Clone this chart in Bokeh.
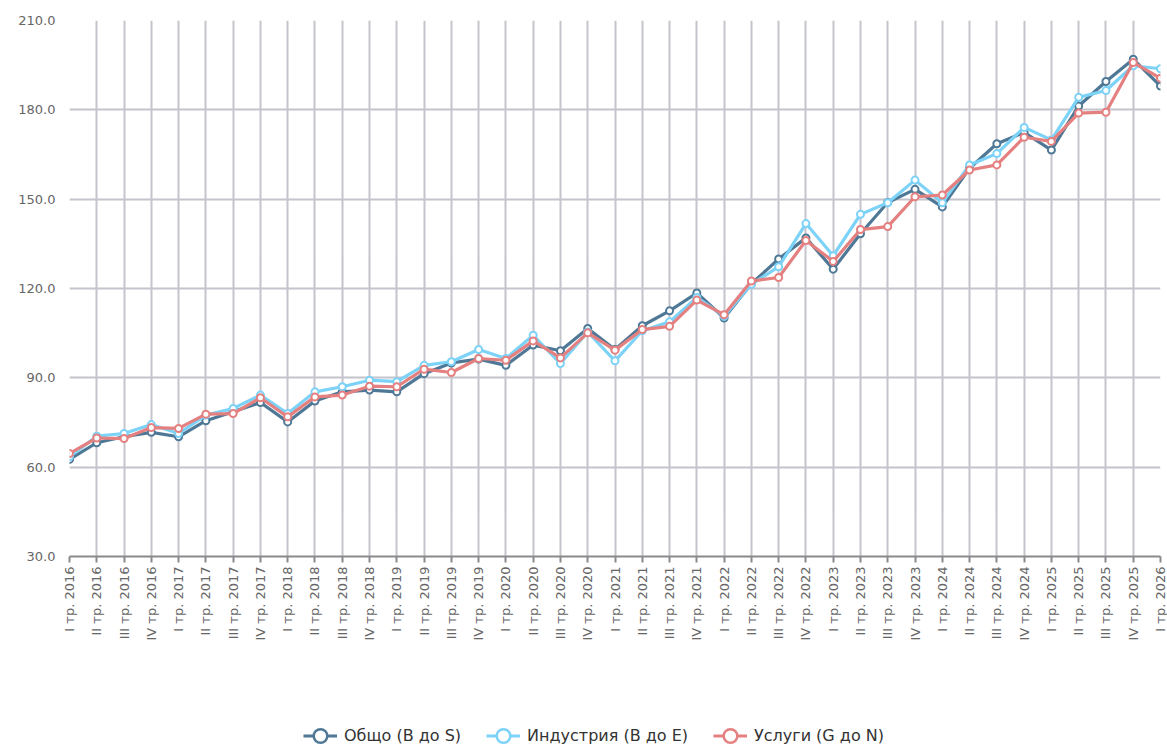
import numpy as np
from bokeh.plotting import figure
from bokeh.layouts import column
from bokeh.models import (Range1d, FixedTicker, PrintfTickFormatter, Legend, LegendItem)
from bokeh.embed import file_html
from bokeh.resources import INLINE

romans = ["I", "II", "III", "IV"]
quarters = [f"{romans[i % 4]} тр. {2016 + i // 4}" for i in range(41)]

obshto = [62.6, 68.2, 70.2, 71.7, 70.2, 75.6, 78.6, 81.7, 75.2, 82.2,
          85.3, 85.9, 85.3, 91.4, 95.0, 96.3, 94.2, 101.0, 99.1, 106.6,
          99.5, 107.5, 112.5, 118.5, 110.1, 121.6, 129.9, 137.0, 126.5, 138.4,
          148.9, 153.3, 147.4, 160.4, 168.6, 172.4, 166.5, 181.3, 189.5, 197.0,
          188.0]
industria = [63.5, 70.4, 71.3, 74.3, 71.3, 77.5, 79.7, 84.2, 78.0, 85.3,
             87.0, 89.2, 88.7, 94.2, 95.4, 99.5, 96.5, 104.3, 94.8, 105.4,
             95.7, 105.8, 108.8, 117.0, 110.7, 121.4, 127.3, 141.8, 131.0, 144.9,
             148.8, 156.4, 148.8, 161.5, 165.3, 174.1, 169.9, 184.2, 186.5, 194.8,
             193.8]
uslugi = [64.6, 69.8, 69.6, 73.3, 73.0, 77.8, 78.0, 83.3, 76.9, 83.6,
          84.2, 87.2, 87.0, 92.9, 91.8, 96.5, 95.9, 102.4, 96.7, 105.1,
          99.3, 106.2, 107.3, 116.1, 111.2, 122.5, 123.7, 136.1, 129.1, 139.8,
          140.8, 150.8, 151.4, 159.8, 161.5, 170.8, 169.4, 178.9, 179.2, 195.9,
          190.6]

series_names = ["Общо (B до S)", "Индустрия (B до E)", "Услуги (G до N)"]
series_vals = [obshto, industria, uslugi]
colors = ["#4e7896", "#7dd2f8", "#e58081"]
y_ticks = [30, 60, 90, 120, 150, 180, 210]

FONT = "DejaVu Sans"
x = list(range(len(quarters)))

p = figure(width=1167, height=720, output_backend="svg", toolbar_location=None,
           x_range=Range1d(0, len(quarters) - 1), y_range=Range1d(30, 210),
           min_border_left=69, min_border_right=7, min_border_top=20,
           min_border_bottom=164)
p.outline_line_color = None
p.background_fill_color = "white"
p.border_fill_color = "white"

p.xaxis.ticker = FixedTicker(ticks=x)
p.xaxis.major_label_overrides = {i: q for i, q in enumerate(quarters)}
p.xaxis.major_label_orientation = np.pi / 2
p.xaxis.major_label_text_font = FONT
p.xaxis.major_label_text_font_size = "13px"
p.xaxis.major_label_text_color = "#666666"
p.xaxis.axis_line_color = "#8a8a8a"
p.xaxis.axis_line_width = 2
p.xaxis.major_tick_line_color = "#8a8a8a"
p.xaxis.major_tick_line_width = 2
p.xaxis.major_tick_out = 6
p.xaxis.major_tick_in = 0
p.xaxis.minor_tick_line_color = None
p.xaxis.major_label_standoff = 4

p.yaxis.ticker = FixedTicker(ticks=y_ticks)
p.yaxis.formatter = PrintfTickFormatter(format="%.1f")
p.yaxis.major_label_text_font = FONT
p.yaxis.major_label_text_font_size = "13px"
p.yaxis.major_label_text_color = "#666666"
p.yaxis.axis_line_color = None
p.yaxis.major_tick_line_color = None
p.yaxis.minor_tick_line_color = None
p.yaxis.major_label_standoff = 8

p.xgrid.ticker = FixedTicker(ticks=x)
p.xgrid.grid_line_color = "#c4c4cc"
p.xgrid.grid_line_width = 2
p.ygrid.ticker = FixedTicker(ticks=y_ticks)
p.ygrid.grid_line_color = "#c4c4cc"
p.ygrid.grid_line_width = 2

for name, vals, col in zip(series_names, series_vals, colors):
    p.line(x, vals, line_color=col, line_width=3.2)
    p.scatter(x, vals, marker="circle", size=7, fill_color="white",
              line_color=col, line_width=2)

# legend strip (same series, drawn out of view so only the legend shows)
lg = figure(width=1167, height=25, output_backend="svg", toolbar_location=None,
            x_range=Range1d(0, 1), y_range=Range1d(1000, 1001),
            x_axis_location=None, y_axis_location=None,
            min_border_left=0, min_border_right=0, min_border_top=0,
            min_border_bottom=0)
lg.outline_line_color = None
lg.xgrid.visible = False
lg.ygrid.visible = False
items = []
for name, vals, col in zip(series_names, series_vals, colors):
    l = lg.line(x, vals, line_color=col, line_width=3)
    s = lg.scatter(x, vals, marker="circle", size=7, fill_color="white",
                   line_color=col, line_width=2.5)
    items.append(LegendItem(label=name, renderers=[l, s]))

legend = Legend(items=items, orientation="horizontal", location=(234, -8),
                glyph_width=34, glyph_height=35, label_standoff=7, spacing=25,
                padding=0, margin=0, border_line_alpha=0, background_fill_alpha=0,
                label_text_font=FONT, label_text_font_size="16px",
                label_text_color="#333333")
lg.add_layout(legend, "center")

layout = column(p, lg, spacing=0)
open("out.html", "w").write(file_html(layout, INLINE))
